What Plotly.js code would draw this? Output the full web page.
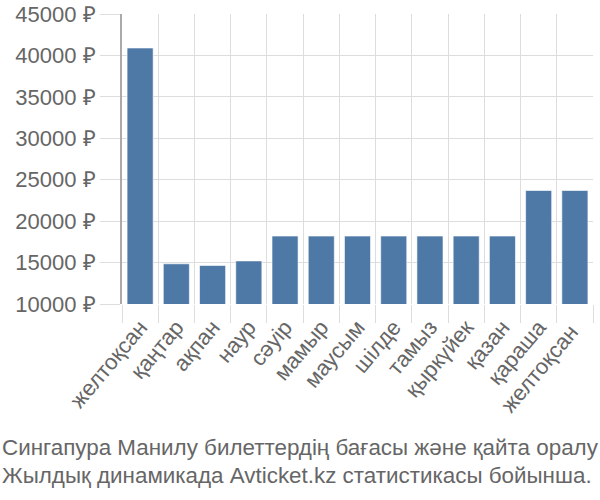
<!DOCTYPE html>
<html>
<head>
<meta charset="utf-8">
<script src="https://cdn.plot.ly/plotly-3.0.1.min.js"></script>
<style>body{margin:0;padding:0;background:#fff}#chart{width:600px;height:500px}</style>
</head>
<body>
<div id="chart"></div>
<script>
const months = ["желтоқсан","қаңтар","ақпан","наур","сәуір","мамыр","маусым","шілде","тамыз","қыркүйек","қазан","қараша","желтоқсан "];
const prices = [40900, 14850, 14650, 15200, 18200, 18200, 18200, 18200, 18200, 18200, 18200, 23700, 23700];
const yTicks = [10000, 15000, 20000, 25000, 30000, 35000, 40000, 45000];
const yTickText = ["10000 ₽", "15000 ₽", "20000 ₽", "25000 ₽", "30000 ₽", "35000 ₽", "40000 ₽", "45000 ₽"];
const captionLines = ["Сингапура Манилу билеттердің бағасы және қайта оралу", "Жылдық динамикада Avticket.kz статистикасы бойынша."];

const L = 122, R = 7, T = 14, B = 196;
const W = 600 - L - R;
const fontFam = "Liberation Sans, Arial, sans-serif";

Plotly.newPlot('chart', [{
  type: 'bar',
  x: months,
  y: prices,
  marker: {color: '#4e79a7', line: {color: 'rgba(255,255,255,0.6)', width: 1}},
  hoverinfo: 'skip'
}], {
  width: 600, height: 500,
  margin: {l: L, r: R, t: T, b: B, pad: 0},
  paper_bgcolor: '#fff', plot_bgcolor: '#fff',
  bargap: 0.28,
  showlegend: false,
  font: {family: fontFam, color: '#666', size: 22},
  xaxis: {
    type: 'category',
    tickson: 'boundaries',
    showgrid: true, gridcolor: '#ddd', gridwidth: 1,
    ticks: 'outside', ticklen: 18, tickcolor: '#ddd', tickwidth: 1,
    tickangle: -50,
    ticklabelstandoff: 5,
    tickfont: {family: fontFam, size: 22, color: '#666'},
    showline: false, zeroline: false
  },
  yaxis: {
    range: [10000, 45000],
    tickvals: yTicks,
    ticktext: yTickText,
    showgrid: true, gridcolor: '#ddd', gridwidth: 1,
    ticks: 'outside', ticklen: 20, tickcolor: '#ddd', tickwidth: 1,
    showline: true, linecolor: '#aaa', linewidth: 2,
    zeroline: false,
    tickfont: {family: fontFam, size: 22, color: '#666'}
  },
  annotations: captionLines.map((t, i) => ({
    text: t, xref: 'paper', yref: 'paper',
    x: -L / W, y: (500 - B - (447 + i * 28)) / (500 - T - B),
    xanchor: 'left', yanchor: 'middle', showarrow: false,
    font: {family: fontFam, size: 22.4, color: '#666'}
  }))
}, {displayModeBar: false, staticPlot: true});
</script>
</body>
</html>
